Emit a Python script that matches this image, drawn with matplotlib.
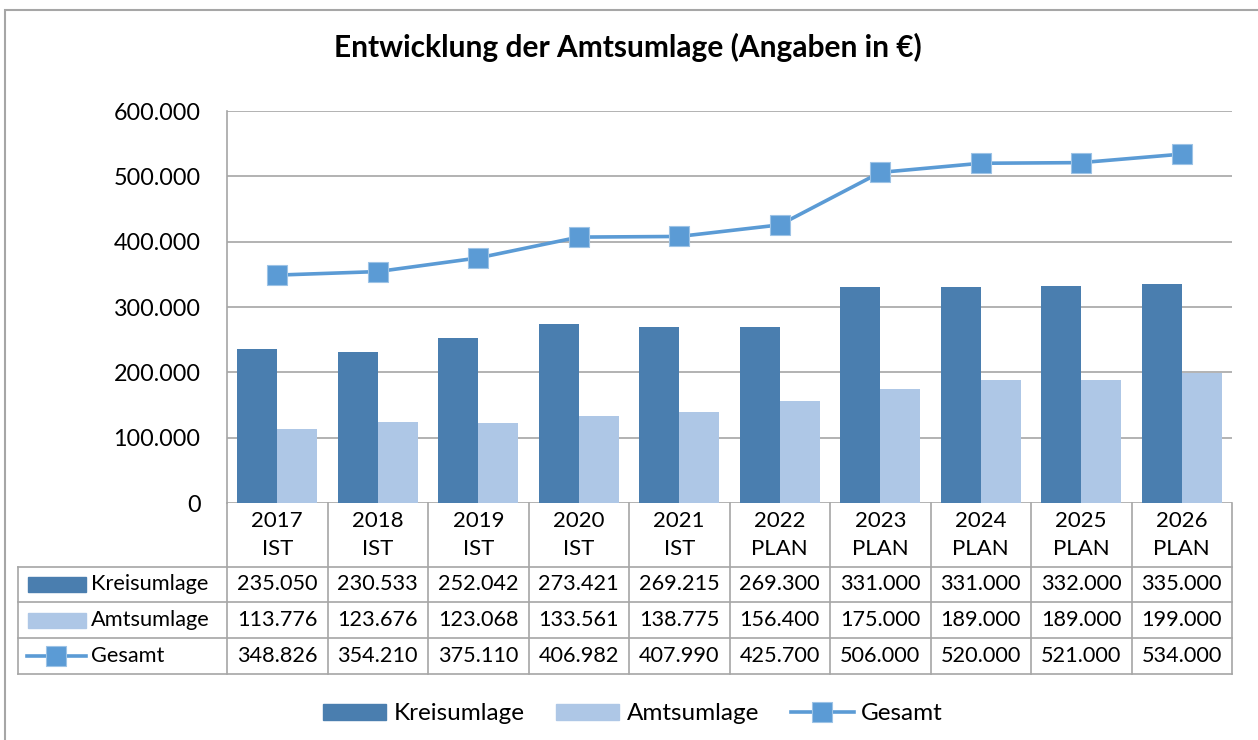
import matplotlib.pyplot as plt
import matplotlib.lines as mlines
import matplotlib.patches as mpatches
import numpy as np

plt.rcParams['font.family'] = ['Lato', 'DejaVu Sans']

# data
years = ['2017', '2018', '2019', '2020', '2021', '2022', '2023', '2024', '2025', '2026']
status = ['IST', 'IST', 'IST', 'IST', 'IST', 'PLAN', 'PLAN', 'PLAN', 'PLAN', 'PLAN']
kreisumlage = [235050, 230533, 252042, 273421, 269215, 269300, 331000, 331000, 332000, 335000]
amtsumlage = [113776, 123676, 123068, 133561, 138775, 156400, 175000, 189000, 189000, 199000]
gesamt = [348826, 354210, 375110, 406982, 407990, 425700, 506000, 520000, 521000, 534000]

c_kreis = '#4A7EAF'
c_amts = '#AEC7E6'
c_ges = '#5B9BD5'
c_grid = '#A6A6A6'


def fmt(v):
    return f'{v:,.0f}'.replace(',', '.')


W, H = 1258, 740
fig = plt.figure(figsize=(W / 100, H / 100), dpi=100)
ax = fig.add_axes([227 / W, 1 - 503 / H, (1232 - 227) / W, (503 - 111) / H])

x = np.arange(len(years))
bw = 0.4
ax.bar(x - bw / 2, kreisumlage, bw, color=c_kreis, zorder=2)
ax.bar(x + bw / 2, amtsumlage, bw, color=c_amts, zorder=2)
ax.plot(x, gesamt, color=c_ges, lw=2.6, marker='s', ms=14, mfc=c_ges, mec='#9DC3E6', mew=0.8, zorder=3)

ax.set_xlim(-0.5, len(years) - 0.5)
ax.set_ylim(0, 600000)
ax.set_yticks(np.arange(0, 600001, 100000))
ax.set_yticklabels([fmt(v) for v in np.arange(0, 600001, 100000)], fontsize=16.8)
ax.tick_params(axis='y', length=0, pad=19)
ax.set_xticks([])
ax.grid(axis='y', color=c_grid, lw=1.2, zorder=0)
for s in ['top', 'right', 'bottom']:
    ax.spines[s].set_visible(False)
ax.spines['left'].set_color(c_grid)
ax.spines['left'].set_linewidth(1.2)

# data table below the axes
tr = ax.get_xaxis_transform()
ah = 503 - 111
yh = [(503 - p) / ah for p in (503, 567, 602, 638, 674)]
xleft = -0.5 + (18 - 227) / 100.5
n = len(years)

def hline(y, x0, x1):
    ax.add_line(mlines.Line2D([x0, x1], [y, y], transform=tr, color=c_grid, lw=1.2, clip_on=False))

def vline(xx, y0, y1):
    ax.add_line(mlines.Line2D([xx, xx], [y0, y1], transform=tr, color=c_grid, lw=1.2, clip_on=False))

for y in yh[1:]:
    hline(y, xleft, n - 0.5)
for i in range(n + 1):
    vline(i - 0.5, yh[0], yh[4])
vline(xleft, yh[1], yh[4])

for i in range(n):
    ax.text(i, (yh[0] + yh[1]) / 2, f'{years[i]}\n{status[i]}', transform=tr, ha='center', va='center',
            fontsize=16, linespacing=1.5, clip_on=False)

rows = [('Kreisumlage', kreisumlage), ('Amtsumlage', amtsumlage), ('Gesamt', gesamt)]
for r, (name, vals) in enumerate(rows):
    yc = (yh[r + 1] + yh[r + 2]) / 2
    for i in range(n):
        ax.text(i, yc, fmt(vals[i]), transform=tr, ha='center', va='center', fontsize=15.6, clip_on=False)
    ax.text(xleft + 73 / 100.5, yc, name, transform=tr, ha='left', va='center', fontsize=15.7, clip_on=False)

# legend keys inside table
def fx(px):
    return px / W

def fy(py):
    return 1 - py / H

for r, col in enumerate([c_kreis, c_amts]):
    yc = [(567 + 602) / 2, (602 + 638) / 2][r]
    fig.add_artist(mpatches.Rectangle((fx(28), fy(yc + 7.5)), fx(86) - fx(28), 15 / H, color=col))
yc = (638 + 674) / 2
fig.add_artist(mlines.Line2D([fx(27), fx(86)], [fy(yc), fy(yc)], color=c_ges, lw=2.6))
fig.add_artist(mlines.Line2D([fx(56)], [fy(yc)], marker='s', ms=14, color=c_ges, mec='#9DC3E6', mew=0.8))

# legend
handles = [mpatches.Patch(color=c_kreis, label='Kreisumlage'),
           mpatches.Patch(color=c_amts, label='Amtsumlage'),
           mlines.Line2D([], [], color=c_ges, lw=2.6, marker='s', ms=14, mec='#9DC3E6', mew=0.8, label='Gesamt')]
fig.legend(handles=handles, loc='center', bbox_to_anchor=(633 / W, 1 - 714 / H), ncol=3, frameon=False,
           fontsize=17.5, handlelength=2.6, handleheight=0.6, columnspacing=1.3, handletextpad=0.3)

fig.text(628 / W, 1 - 47 / H, 'Entwicklung der Amtsumlage (Angaben in €)', ha='center', va='center',
         fontsize=21.5, fontweight='bold')

# outer frame
fig.add_artist(mpatches.Rectangle((fx(5), -0.1), 1.2, fy(10) + 0.1, fill=False, ec=c_grid, lw=1.5))

fig.savefig('out.png', dpi=100)
